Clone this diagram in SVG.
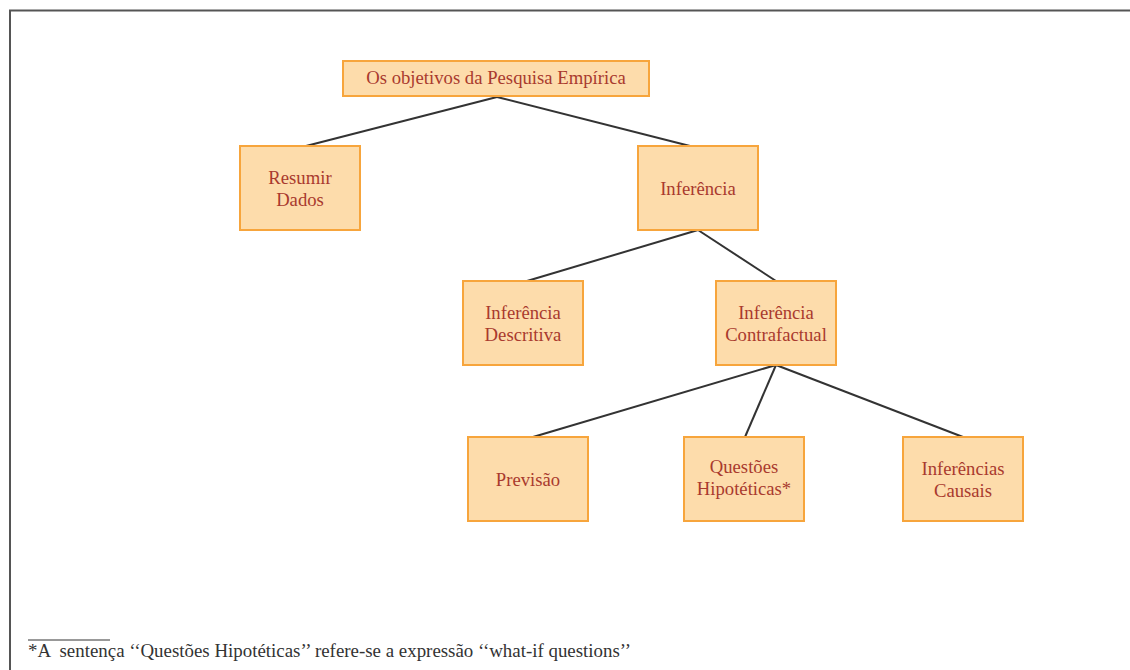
<svg xmlns="http://www.w3.org/2000/svg" width="1130" height="670" viewBox="0 0 1130 670">
<style>
.box{fill:#fddcab;stroke:#f7a53c;stroke-width:2}
.t{font-family:"Liberation Serif","Times New Roman",serif;font-size:18.7px;fill:#a93a2e;text-anchor:middle}
.c{stroke:#333;stroke-width:2;fill:none}
.fn{font-family:"Liberation Serif","Times New Roman",serif;font-size:18.9px;fill:#333}
</style>
<rect width="1130" height="670" fill="#fff"/>
<path d="M10 670 V10.5 H1130" fill="none" stroke="#555" stroke-width="2"/>
<g id="connectors">
<line class="c" x1="497" y1="97" x2="306" y2="146"/>
<line class="c" x1="497" y1="97" x2="690" y2="146"/>
<line class="c" x1="698" y1="230" x2="527" y2="281"/>
<line class="c" x1="698" y1="230" x2="776" y2="281"/>
<line class="c" x1="776" y1="365" x2="533" y2="437"/>
<line class="c" x1="776" y1="365" x2="745" y2="437"/>
<line class="c" x1="776" y1="365" x2="963" y2="437"/>
</g>
<g id="n-root"><rect class="box" x="343" y="61" width="306" height="35"/><text class="t" x="496" y="84">Os objetivos da Pesquisa Empírica</text></g>
<g id="n-resumir"><rect class="box" x="240" y="146" width="120" height="84"/><text class="t" x="300" y="184">Resumir</text><text class="t" x="300" y="206">Dados</text></g>
<g id="n-inferencia"><rect class="box" x="638" y="146" width="120" height="84"/><text class="t" x="698" y="195">Inferência</text></g>
<g id="n-descritiva"><rect class="box" x="463" y="281" width="120" height="84"/><text class="t" x="523" y="319">Inferência</text><text class="t" x="523" y="341">Descritiva</text></g>
<g id="n-contrafactual"><rect class="box" x="716" y="281" width="120" height="84"/><text class="t" x="776" y="319">Inferência</text><text class="t" x="776" y="341">Contrafactual</text></g>
<g id="n-previsao"><rect class="box" x="468" y="437" width="120" height="84"/><text class="t" x="528" y="486">Previsão</text></g>
<g id="n-questoes"><rect class="box" x="684" y="437" width="120" height="84"/><text class="t" x="744" y="473">Questões</text><text class="t" x="744" y="495">Hipotéticas*</text></g>
<g id="n-causais"><rect class="box" x="903" y="437" width="120" height="84"/><text class="t" x="963" y="475">Inferências</text><text class="t" x="963" y="497">Causais</text></g>
<line x1="28" y1="640" x2="110" y2="640" stroke="#333" stroke-width="1"/>
<text class="fn" x="28" y="657" xml:space="preserve">*A  sentença ‘‘Questões Hipotéticas’’ refere-se a expressão ‘‘what-if questions’’</text>
</svg>
